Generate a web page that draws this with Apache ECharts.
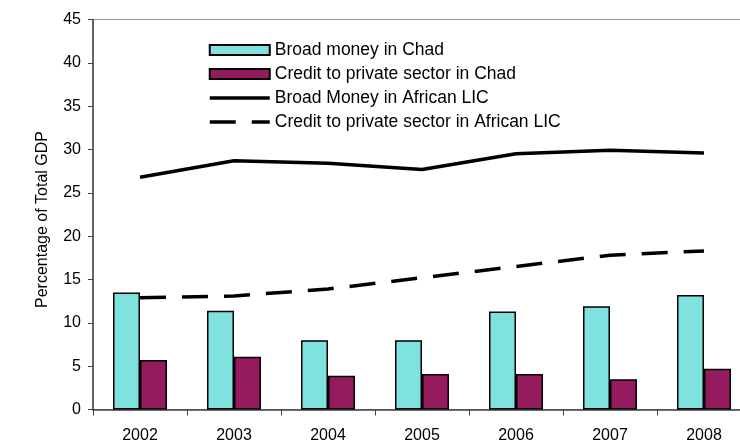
<!DOCTYPE html>
<html>
<head>
<meta charset="utf-8">
<script src="https://cdn.jsdelivr.net/npm/echarts@6/dist/echarts.min.js"></script>
<style>
  html, body { margin: 0; padding: 0; background: #fff; }
  #chart { width: 740px; height: 442px; }
</style>
</head>
<body>
<div id="chart"></div>
<script>
// Years on the category axis
const years = ['2002', '2003', '2004', '2005', '2006', '2007', '2008'];

// Chad: broad money and private-sector credit, % of GDP
const broadMoneyChad = [13.5, 11.4, 8.0, 8.0, 11.3, 11.9, 13.2];
const creditChad = [5.7, 6.1, 3.9, 4.1, 4.1, 3.5, 4.7];

// African low-income-country averages, % of GDP
const broadMoneyLIC = [26.8, 28.7, 28.4, 27.7, 29.5, 29.9, 29.6];
const creditLIC = [12.9, 13.1, 13.9, 15.2, 16.5, 17.8, 18.3];

const seriesNames = [
  'Broad money in Chad',
  'Credit to private sector in Chad',
  'Broad Money in African LIC',
  'Credit to private sector in African LIC'
];

const FONT = '"Liberation Sans", Arial, sans-serif';
const LINE_W = 3.5;
const DASH = [26, 16];

const chart = echarts.init(document.getElementById('chart'), null, { renderer: 'canvas' });

chart.setOption({
  animation: false,
  backgroundColor: '#ffffff',
  textStyle: { fontFamily: FONT },
  grid: {
    left: 93,
    top: 19.5,
    bottom: 32.5,
    width: 658,
    outerBoundsMode: 'none',
    show: true,
    borderColor: '#9a9a9a',
    borderWidth: 1,
    backgroundColor: 'transparent'
  },
  legend: {
    orient: 'vertical',
    left: 203,
    top: 36,
    itemWidth: 60,
    itemHeight: 10,
    itemGap: 6,
    textStyle: { fontFamily: FONT, fontSize: 17.5, color: '#000' },
    data: [
      { name: seriesNames[0], icon: 'rect' },
      { name: seriesNames[1], icon: 'rect' },
      {
        name: seriesNames[2],
        itemStyle: { opacity: 0 },
        lineStyle: { color: '#000', width: LINE_W }
      },
      {
        name: seriesNames[3],
        itemStyle: { opacity: 0 },
        lineStyle: { color: '#000', width: LINE_W, type: DASH }
      }
    ]
  },
  xAxis: {
    type: 'category',
    data: years,
    axisLine: { lineStyle: { color: '#404040', width: 1.5 } },
    axisTick: { show: true, length: 6, lineStyle: { color: '#404040' } },
    axisLabel: { fontFamily: FONT, fontSize: 16, color: '#000', margin: 18 }
  },
  yAxis: {
    type: 'value',
    min: 0,
    max: 45,
    interval: 5,
    name: 'Percentage of Total GDP',
    nameLocation: 'middle',
    nameGap: 42,
    nameTextStyle: { fontFamily: FONT, fontSize: 16, color: '#000', padding: [0, 10, 0, 0] },
    axisLine: { show: true, lineStyle: { color: '#404040', width: 1.5 } },
    axisTick: { show: true, length: 5, lineStyle: { color: '#404040' } },
    axisLabel: { fontFamily: FONT, fontSize: 16, color: '#000', margin: 12 },
    splitLine: { show: false }
  },
  series: [
    {
      name: seriesNames[0],
      type: 'bar',
      data: broadMoneyChad,
      barWidth: 27,
      barGap: '0%',
      itemStyle: { color: '#7fe2df', borderColor: '#000', borderWidth: 1.5 }
    },
    {
      name: seriesNames[1],
      type: 'bar',
      data: creditChad,
      barWidth: 27,
      barGap: '0%',
      itemStyle: { color: '#961a5e', borderColor: '#000', borderWidth: 1.5 }
    },
    {
      name: seriesNames[2],
      type: 'line',
      data: broadMoneyLIC,
      symbol: 'circle',
      showSymbol: false,
      lineStyle: { color: '#000', width: LINE_W },
      itemStyle: { color: '#000' }
    },
    {
      name: seriesNames[3],
      type: 'line',
      data: creditLIC,
      symbol: 'circle',
      showSymbol: false,
      lineStyle: { color: '#000', width: LINE_W, type: DASH },
      itemStyle: { color: '#000' }
    }
  ]
});
</script>
</body>
</html>
